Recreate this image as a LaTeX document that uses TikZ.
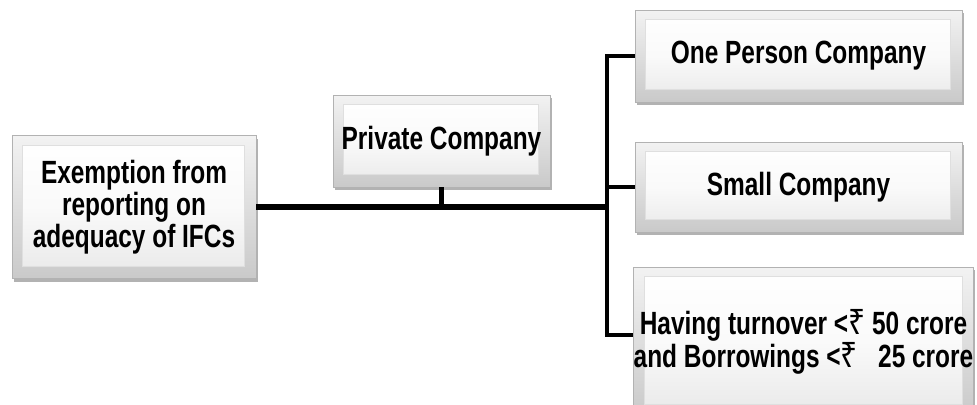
\documentclass[tikz,border=0pt]{standalone}
\usepackage{fontspec}
\setmainfont{Liberation Sans}[FakeStretch=0.76]
\newfontfamily\rupeefont{Noto Sans}[FakeStretch=0.85]
\usetikzlibrary{shadows,positioning}

\newcommand{\Rs}{{\rupeefont\bfseries\fontsize{20}{16.5}\selectfont ₹}}

\tikzset{
  bevel/.style={draw=gray!60, line width=0.5pt, top color=gray!10, bottom color=gray!42,
    drop shadow={shadow xshift=1.2pt, shadow yshift=-1.8pt, opacity=0.3, fill=black},
    path picture={\shade[top color=white, bottom color=gray!18, middle color=white!96!gray, draw=gray!25, line width=0.3pt]
      ([shift={(6pt,-5.5pt)}]path picture bounding box.north west) rectangle
      ([shift={(-6.5pt,7pt)}]path picture bounding box.south east);},
    font=\fontsize{18.3}{16.5}\selectfont\bfseries, align=center, inner sep=0pt, text=black},
  conn/.style={line width=2.4pt, black},
  trunk/.style={line width=3pt, black}
}

\begin{document}
\begin{tikzpicture}[x=0.02cm, y=-0.02cm]
\useasboundingbox (0,0) rectangle (977,405);

% boxes
\node[bevel, minimum width=4.88cm, minimum height=2.86cm] (exempt) at (134,207) {Exemption from\\reporting on\\adequacy of IFCs};
\node[bevel, minimum width=4.34cm, minimum height=1.84cm] (private) at (441.5,141) {Private Company};
\node[bevel, minimum width=6.54cm, minimum height=1.84cm] (opc) at (798.5,56) {One Person Company};
\node[bevel, minimum width=6.54cm, minimum height=1.80cm] (small) at (798.5,187) {Small Company};
\node[bevel, minimum width=6.74cm, minimum height=3.0cm] (turn) at (803.5,342) {Having turnover <\Rs\ 50 crore\\and Borrowings <\Rs\ \ \ 25 crore};

% connectors
\coordinate (fork) at (607,207);
\draw[trunk] (exempt.east) -- (fork);
\draw[conn] (private.south) -- (private.south |- fork);
\draw[conn] (opc.west) -| (fork) |- ([yshift=4pt]turn.west);
\draw[conn] (small.west) -| (fork);
\end{tikzpicture}
\end{document}
